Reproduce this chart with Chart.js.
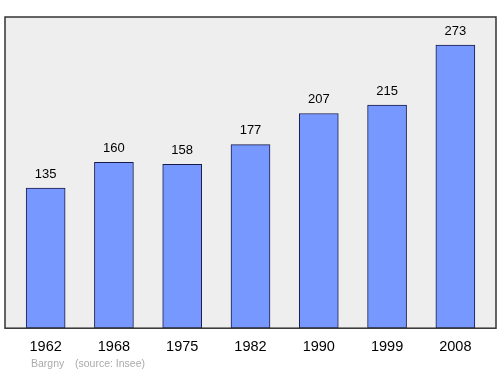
<!DOCTYPE html>
<html>
<head>
<meta charset="utf-8">
<script src="https://cdn.jsdelivr.net/npm/chart.js@4/dist/chart.umd.min.js"></script>
<style>
  html, body { margin: 0; padding: 0; background: #ffffff; }
  #wrap { width: 500px; height: 374px; position: relative; }
</style>
</head>
<body>
<div id="wrap"><canvas id="myChart" width="500" height="374"></canvas></div>
<script>
const years = ["1962", "1968", "1975", "1982", "1990", "1999", "2008"];
const population = [135, 160, 158, 177, 207, 215, 273];
const yTicks = [0, 300];
const townName = "Bargny";
const sourceNote = "(source: Insee)";

const FONT = "'Liberation Sans', Arial, sans-serif";

// gray panel + frame behind bars, slightly wider than the chart area
const panelPlugin = {
  id: "panel",
  beforeDraw(chart) {
    const { ctx, chartArea } = chart;
    const ext = 6.5;
    ctx.save();
    ctx.fillStyle = "#eeeeee";
    ctx.fillRect(chartArea.left - ext, chartArea.top, chartArea.width + ext * 2, chartArea.height);
    ctx.restore();
  },
  afterDatasetsDraw(chart) {
    const { ctx, chartArea } = chart;
    const ext = 6.5;
    ctx.save();
    ctx.strokeStyle = "#333333";
    ctx.lineWidth = 1.5;
    ctx.strokeRect(chartArea.left - ext, chartArea.top, chartArea.width + ext * 2, chartArea.height);

    // values above bars
    ctx.fillStyle = "#000000";
    ctx.font = "13px " + FONT;
    ctx.textAlign = "center";
    ctx.textBaseline = "middle";
    chart.getDatasetMeta(0).data.forEach((bar, i) => {
      ctx.fillText(String(population[i]), bar.x, bar.y - 14);
    });

    // footer note
    ctx.fillStyle = "#aaaaaa";
    ctx.font = "10.5px " + FONT;
    ctx.textAlign = "left";
    ctx.fillText(townName, 31, 364);
    ctx.fillText(sourceNote, 75, 364);
    ctx.restore();
  }
};

new Chart(document.getElementById("myChart"), {
  type: "bar",
  data: {
    labels: years,
    datasets: [{
      data: population,
      backgroundColor: "#7799ff",
      borderColor: "#1a1a4a",
      borderWidth: 1,
      borderSkipped: false,
      barThickness: 39
    }]
  },
  options: {
    responsive: false,
    animation: false,
    layout: { padding: { left: 11.5, right: 10.5, top: 17, bottom: 7.6 } },
    plugins: { legend: { display: false }, tooltip: { enabled: false } },
    scales: {
      x: {
        grid: { display: false, drawTicks: false },
        border: { display: false },
        ticks: { color: "#000000", padding: 10.4, font: { size: 14.5, family: FONT } }
      },
      y: {
        display: false,
        min: yTicks[0],
        max: yTicks[1]
      }
    }
  },
  plugins: [panelPlugin]
});
</script>
</body>
</html>
